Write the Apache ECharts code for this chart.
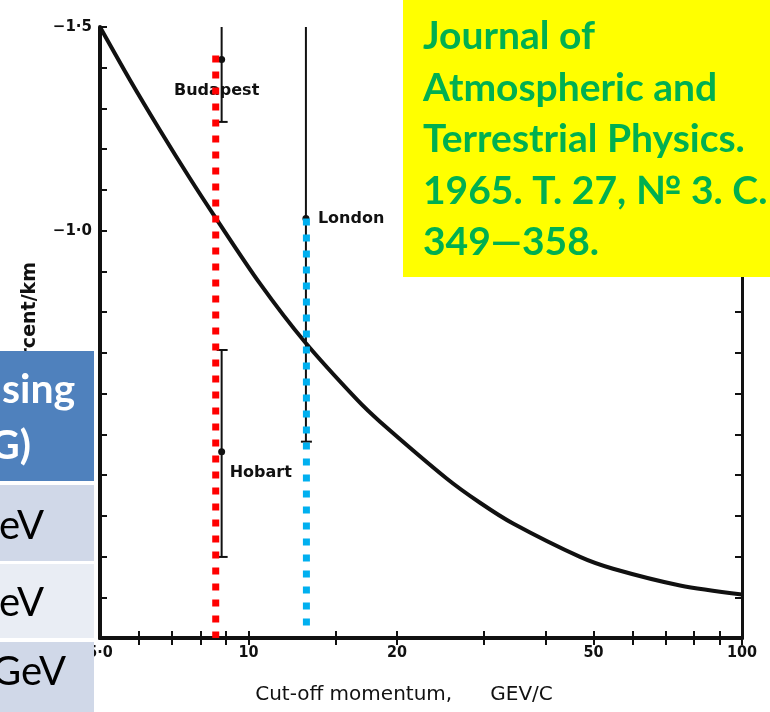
<!DOCTYPE html>
<html>
<head>
<meta charset="utf-8">
<style>
  html, body { margin: 0; padding: 0; background: #ffffff; }
  #chart { width: 770px; height: 712px; }
</style>
<script src="https://cdn.jsdelivr.net/npm/echarts@6/dist/echarts.min.js"></script>
</head>
<body>
<div id="chart"></div>
<script>
// Rate of change (per cent/km) against geomagnetic cut-off momentum (GeV/c)
const curveMomentum = [5, 5.75, 6.62, 7.61, 8.55, 10.55, 13.02, 16.59, 18.47, 25.24, 29.45, 34.36, 46.97, 54.79, 74.89, 100];
const curveRate = [-1.5, -1.370, -1.246, -1.128, -1.034, -0.870, -0.726, -0.585, -0.531, -0.391, -0.332, -0.281, -0.199, -0.170, -0.129, -0.107];

// Station measurements: central value and error-bar ends
const stationNames = ['Budapest', 'London', 'Hobart'];
const stationMomentum = [8.82, 13.07, 8.82];
const stationRate = [-1.42, -1.03, -0.457];
const stationRateLow = [-1.5, -1.5, -0.707];
const stationRateHigh = [-1.267, -0.482, -0.199];

// Highlighted cut-off momenta (dotted guides)
const redGuide = [[8.58, -1.43], [8.58, 0]];
const blueGuide = [[13.1, -1.03], [13.1, -0.01]];

// Axis ticks and labels
const xTickValues = [6, 7, 8, 9, 10, 15, 20, 30, 40, 50, 60, 70, 80, 90, 100];
const xLabelValues = [5, 10, 20, 50, 100];
const yTickValues = [-1.5, -1.4, -1.3, -1.2, -1.1, -1.0, -0.9, -0.8, -0.7, -0.6, -0.5, -0.4, -0.3, -0.2, -0.1, 0];
const yLabelValues = [-1.5, -1.0, -0.5];

// Citation box and table fragment texts
const citationLines = ['Journal of', 'Atmospheric and', 'Terrestrial Physics.', '1965. T. 27, № 3. C.', '349—358.'];
const tableHeader = ['sing', 'G)'];
const tableRows = ['eV', 'eV', 'GeV'];

const curveData = curveMomentum.map((m, i) => [m, curveRate[i]]);
const stationData = stationNames.map((n, i) => [stationMomentum[i], stationRate[i], stationRateLow[i], stationRateHigh[i]]);

// label placement relative to each station point
const stationLabelLayout = [
  { dx: -5, dy: 31, align: 'center' },
  { dx: 12, dy: 0, align: 'left' },
  { dx: 8, dy: 21, align: 'left' }
];

const ink = '#111111';
const axisFont = 'DejaVu Sans';

function fmtY(v) {
  const s = Math.abs(v).toFixed(1).replace('.', '·');
  return (v < 0 ? '−' : '') + s;
}
function fmtX(v) {
  const r = Math.round(v);
  return r === 5 ? '5·0' : String(r);
}

const xAxisCommon = {
  type: 'log',
  logBase: 10,
  min: 5,
  max: 100,
  splitLine: { show: false },
  minorTick: { show: false },
  axisTick: { show: true, inside: true, length: 7, customValues: xTickValues, lineStyle: { color: ink, width: 2 } }
};
const yAxisCommon = {
  type: 'value',
  min: -1.5,
  max: 0,
  inverse: true,
  splitLine: { show: false },
  axisTick: { show: true, inside: true, length: 7, customValues: yTickValues, lineStyle: { color: ink, width: 2 } }
};

const chart = echarts.init(document.getElementById('chart'), null, { renderer: 'canvas' });

chart.setOption({
  animation: false,
  backgroundColor: '#ffffff',
  grid: { left: 100, right: 28, top: 27, bottom: 74 },
  xAxis: [
    Object.assign({}, xAxisCommon, {
      position: 'bottom',
      axisLine: { show: true, lineStyle: { color: ink, width: 4 } },
      axisLabel: {
        show: true,
        customValues: xLabelValues,
        formatter: fmtX,
        margin: 7,
        color: ink,
        fontFamily: 'Liberation Sans Narrow, DejaVu Sans Condensed, sans-serif',
        fontWeight: 'bold',
        fontSize: 16
      },
      name: 'Cut-off momentum,      GEV/C',
      nameLocation: 'middle',
      nameGap: 47,
      nameTextStyle: {
        color: ink,
        fontFamily: axisFont,
        fontSize: 20,
        padding: [0, 34, 0, 0]
      }
    }),
    Object.assign({}, xAxisCommon, {
      position: 'top',
      axisLine: { show: true, lineStyle: { color: ink, width: 4 } },
      axisLabel: { show: false }
    })
  ],
  yAxis: [
    Object.assign({}, yAxisCommon, {
      position: 'left',
      axisLine: { show: true, lineStyle: { color: ink, width: 4 } },
      axisLabel: {
        show: true,
        customValues: yLabelValues,
        formatter: fmtY,
        margin: 8,
        color: ink,
        fontFamily: axisFont,
        fontWeight: 'bold',
        fontSize: 15
      }
    }),
    Object.assign({}, yAxisCommon, {
      position: 'right',
      axisLine: { show: true, lineStyle: { color: ink, width: 3 } },
      axisLabel: { show: false }
    })
  ],
  series: [
    {
      name: 'rate',
      type: 'line',
      data: curveData,
      smooth: 0.3,
      symbol: 'none',
      clip: false,
      lineStyle: { color: ink, width: 4 }
    },
    {
      name: 'stations',
      type: 'custom',
      data: stationData,
      encode: { x: 0, y: 1 },
      clip: false,
      renderItem: function (params, api) {
        const idx = params.dataIndex;
        const p = api.coord([api.value(0), api.value(1)]);
        const a = api.coord([api.value(0), api.value(2)]);
        const b = api.coord([api.value(0), api.value(3)]);
        const lay = stationLabelLayout[idx];
        const barStyle = { stroke: ink, lineWidth: 2 };
        const children = [
          { type: 'line', shape: { x1: p[0], y1: a[1], x2: p[0], y2: b[1] }, style: barStyle },
          { type: 'line', shape: { x1: p[0] - 5, y1: b[1], x2: p[0] + 6, y2: b[1] }, style: barStyle },
          { type: 'circle', shape: { cx: p[0], cy: p[1], r: 3.5 }, style: { fill: ink } },
          {
            type: 'text',
            x: p[0] + lay.dx,
            y: p[1] + lay.dy,
            style: {
              text: stationNames[idx],
              fill: ink,
              font: 'bold 16px "DejaVu Sans"',
              align: lay.align,
              verticalAlign: 'middle'
            }
          }
        ];
        // upper cap only where the bar stops inside the frame
        if (api.value(2) > -1.5) {
          children.push({ type: 'line', shape: { x1: p[0] - 5, y1: a[1], x2: p[0] + 6, y2: a[1] }, style: barStyle });
        }
        return { type: 'group', children: children };
      }
    },
    {
      name: 'guide-red',
      type: 'line',
      data: redGuide,
      symbol: 'none',
      clip: false,
      lineStyle: { color: '#FF0000', width: 7, type: [7, 9], cap: 'butt' }
    },
    {
      name: 'guide-blue',
      type: 'line',
      data: blueGuide,
      symbol: 'none',
      clip: false,
      lineStyle: { color: '#00B0F0', width: 7, type: [7, 9], cap: 'butt' }
    }
  ],
  graphic: [
    // vertical axis title
    {
      type: 'text',
      x: 30,
      y: 262,
      rotation: Math.PI / 2,
      z: 50,
      style: {
        text: 'percent/km',
        fill: ink,
        font: 'bold 19px "DejaVu Sans"',
        align: 'right',
        verticalAlign: 'middle'
      }
    },
    // citation box
    {
      type: 'rect',
      z: 100,
      shape: { x: 403, y: 0, width: 367, height: 277 },
      style: { fill: '#FFFF00' }
    },
    {
      type: 'text',
      z: 101,
      x: 423,
      y: 11,
      style: {
        text: citationLines.join('\n'),
        fill: '#00B050',
        font: 'bold 39px Lato',
        lineHeight: 51.5,
        align: 'left',
        verticalAlign: 'top'
      }
    },
    // table fragment
    { type: 'rect', z: 100, shape: { x: 0, y: 351, width: 94, height: 130 }, style: { fill: '#4F81BD' } },
    { type: 'rect', z: 100, shape: { x: 0, y: 485, width: 94, height: 76 }, style: { fill: '#D0D8E8' } },
    { type: 'rect', z: 100, shape: { x: 0, y: 564, width: 94, height: 74 }, style: { fill: '#E9EDF4' } },
    { type: 'rect', z: 100, shape: { x: 0, y: 642, width: 94, height: 70 }, style: { fill: '#D0D8E8' } },
    { type: 'text', z: 101, x: 2, y: 390, style: { text: tableHeader[0], fill: '#ffffff', font: 'bold 41px Lato', align: 'left', verticalAlign: 'middle' } },
    { type: 'text', z: 101, x: -10, y: 446, style: { text: tableHeader[1], fill: '#ffffff', font: 'bold 41px Lato', align: 'left', verticalAlign: 'middle' } },
    { type: 'text', z: 101, x: -1, y: 526, style: { text: tableRows[0], fill: '#000000', font: '40px Lato', align: 'left', verticalAlign: 'middle' } },
    { type: 'text', z: 101, x: -1, y: 603, style: { text: tableRows[1], fill: '#000000', font: '40px Lato', align: 'left', verticalAlign: 'middle' } },
    { type: 'text', z: 101, x: -8, y: 672, style: { text: tableRows[2], fill: '#000000', font: '40px Lato', align: 'left', verticalAlign: 'middle' } }
  ]
});
</script>
</body>
</html>
